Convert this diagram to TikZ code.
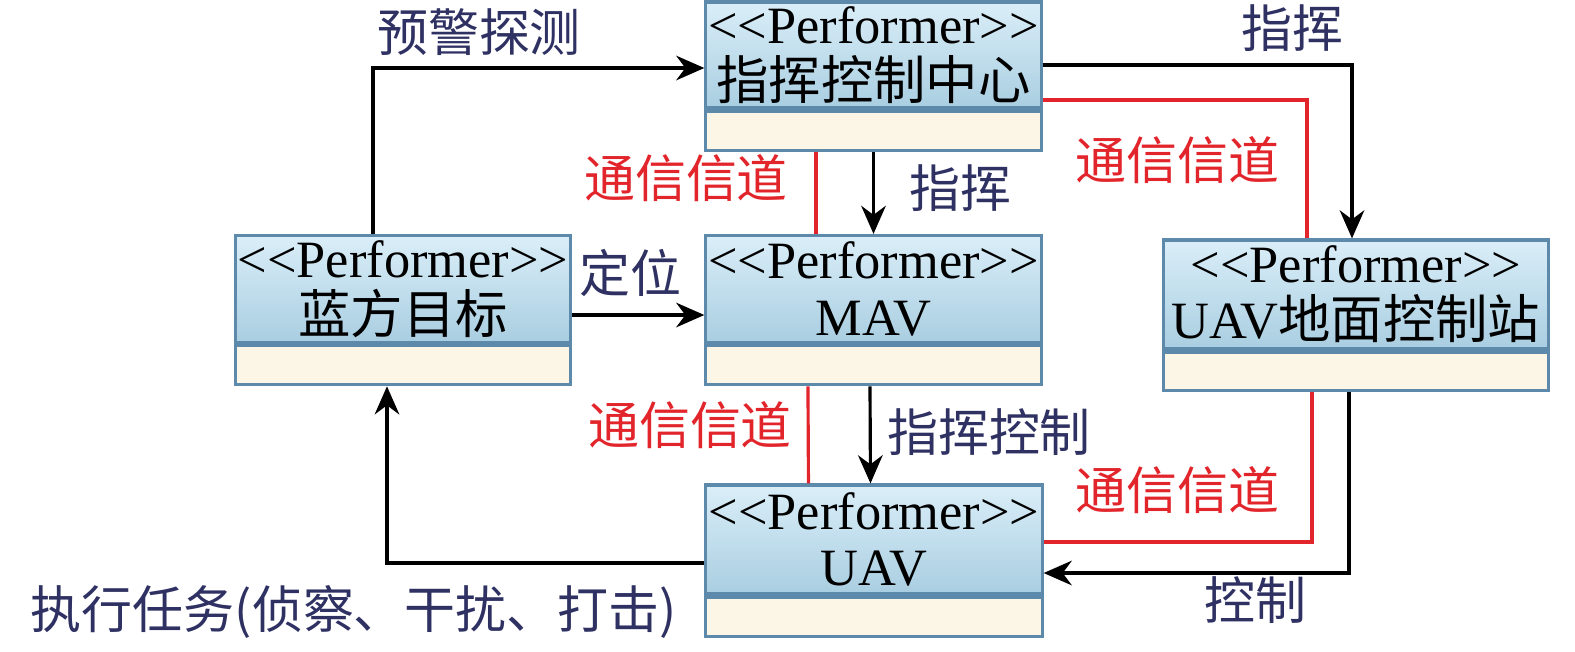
\documentclass[tikz,border=0pt]{standalone}
\usepackage{fontspec}
\setmainfont{Liberation Serif}
\newfontfamily\cjk{Noto Sans CJK SC}
\usetikzlibrary{arrows.meta}
\definecolor{navy}{HTML}{2E3162}
\definecolor{chred}{HTML}{E2242B}
\definecolor{boxline}{HTML}{5D89AB}
\definecolor{boxtop}{HTML}{DAEEF8}
\definecolor{boxbot}{HTML}{A9CEE1}
\definecolor{boxbody}{HTML}{FCF6E7}
\newcommand{\perf}{<{}<Performer>{}>}
\begin{document}
\begin{tikzpicture}[x=0.01cm,y=-0.01cm,
  head/.style={draw=boxline,line width=0.9pt,top color=boxtop,bottom color=boxbot,inner sep=0pt,
    minimum height=1.07cm,align=center,font=\fontsize{14.9}{16}\selectfont},
  body/.style={draw=boxline,line width=0.9pt,fill=boxbody,inner sep=0pt,minimum height=0.39cm,anchor=north},
  arr/.style={line width=0.9pt,-{Stealth[length=8pt,width=7pt]}},
  chan/.style={draw=chred,line width=0.9pt},
  lbl/.style={text=navy,font=\fontsize{14.5}{16}\selectfont\cjk},
  rlbl/.style={text=chred,font=\fontsize{14.5}{16}\selectfont\cjk}]
\useasboundingbox (0,0) rectangle (1575,651);
\node[head,minimum width=3.35cm,minimum height=1.06cm] (zhk) at (873.5,55) {\perf\\{\cjk 指挥控制中心}};
\node[body,minimum width=3.35cm] (zhkb) at (zhk.south) {};
\node[head,minimum width=3.34cm] (lf) at (403,289) {\perf\\{\cjk 蓝方目标}};
\node[body,minimum width=3.34cm] (lfb) at (lf.south) {};
\node[head,minimum width=3.35cm] (mav) at (873.5,289) {\perf\\MAV};
\node[body,minimum width=3.35cm] (mavb) at (mav.south) {};
\node[head,minimum width=3.84cm,minimum height=1.09cm] (gcs) at (1356,294.5) {\perf\\UAV{\cjk 地面控制站}};
\node[body,minimum width=3.84cm,minimum height=0.38cm] (gcsb) at (gcs.south) {};
\node[head,minimum width=3.36cm,minimum height=1.09cm] (uav) at (874,539.5) {\perf\\UAV};
\node[body,minimum width=3.36cm] (uavb) at (uav.south) {};

\node[lbl] (yj) at (479,32) {预警探测};
\node[lbl] (zh1) at (1292,28) {指挥};
\node[rlbl] (tx1) at (1177,160) {通信信道};
\node[rlbl] (tx2) at (686,178) {通信信道};
\node[lbl] (zh2) at (960,188) {指挥};
\node[lbl] (dw) at (630,273) {定位};
\node[rlbl] (tx3) at (690,425) {通信信道};
\node[lbl] (zhkz) at (989,432) {指挥控制};
\node[rlbl] (tx4) at (1177,490) {通信信道};
\node[lbl] (kz) at (1255,600) {控制};
\node[lbl] (zx) at (354,612) {执行任务(侦察、干扰、打击)};

\draw[arr] ([xshift=-0.3cm]lf.north) |- ([yshift=-0.13cm]zhk.west);
\draw[arr] ([yshift=-0.1cm]zhk.east) -| ([xshift=-0.04cm]gcs.north);
\draw[chan] ([yshift=-0.45cm]zhk.east) -| ([xshift=-0.49cm]gcs.north);
\draw[chan] ([xshift=-0.575cm]zhkb.south) -- ([xshift=-0.575cm]mav.north);
\draw[arr] (zhkb.south) -- (mav.north);
\draw[arr] ([yshift=-0.26cm]lf.east) -- ([yshift=-0.26cm]mav.west);
\draw[chan] ([xshift=-0.655cm]mavb.south) -- ([xshift=-0.655cm]uav.north);
\draw[arr] ([xshift=-0.035cm]mavb.south) -- ([xshift=-0.035cm]uav.north);
\draw[chan] ([xshift=-0.44cm]gcsb.south) |- ([yshift=-0.025cm]uav.east);
\draw[arr] ([xshift=-0.07cm]gcsb.south) |- ([yshift=-0.335cm]uav.east);
\draw[arr] ([yshift=-0.235cm]uav.west) -| ([xshift=-0.16cm]lfb.south);
\end{tikzpicture}
\end{document}
